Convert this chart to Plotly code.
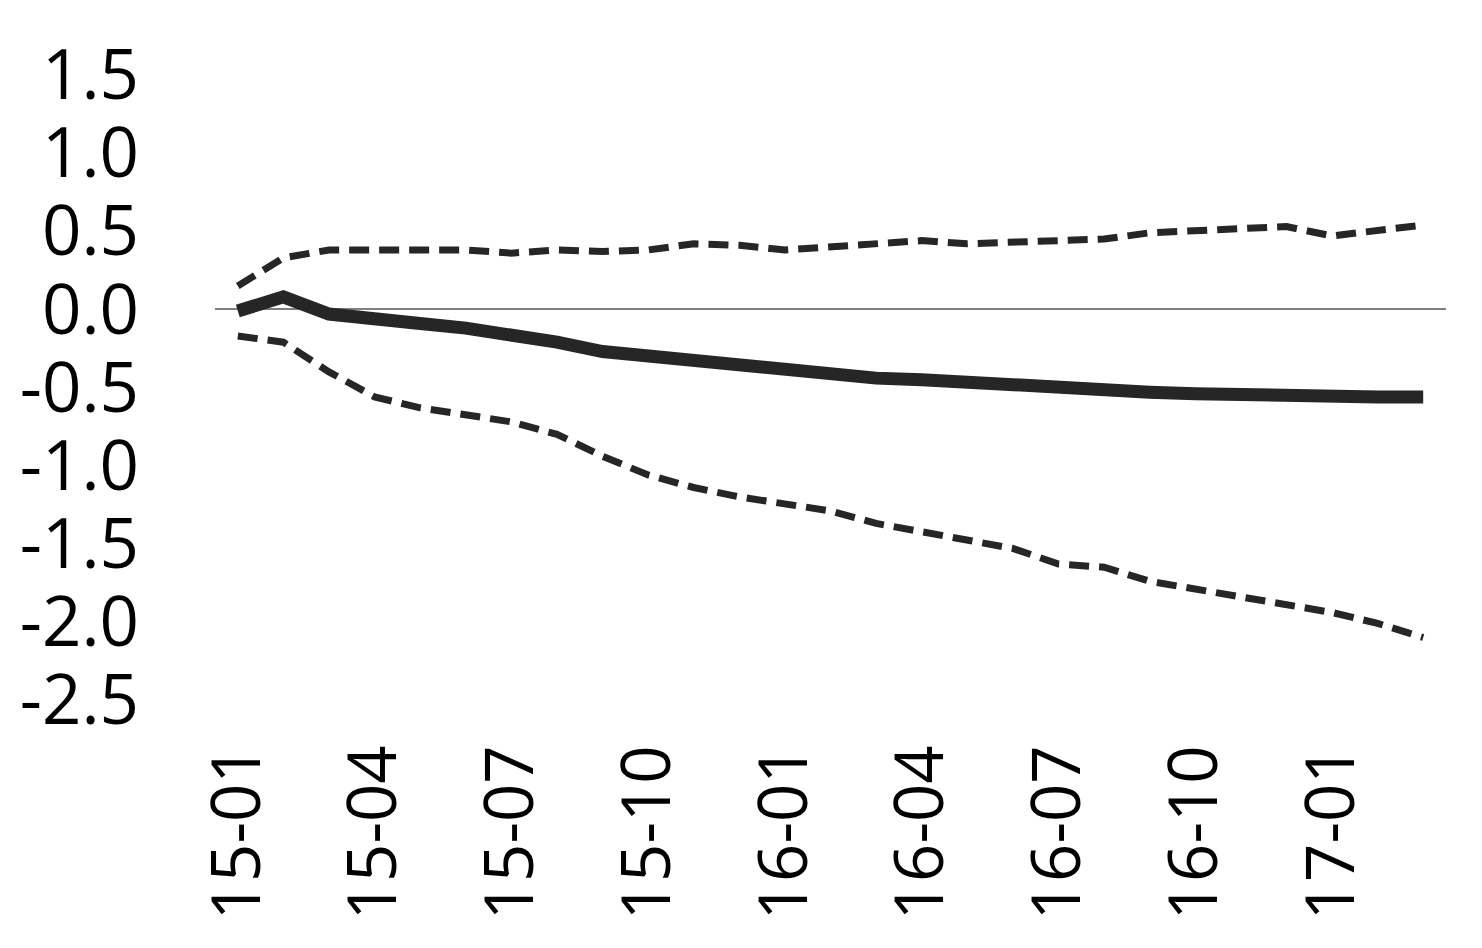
import plotly.graph_objects as go

months = ["15-01", "15-02", "15-03", "15-04", "15-05", "15-06", "15-07", "15-08", "15-09",
          "15-10", "15-11", "15-12", "16-01", "16-02", "16-03", "16-04", "16-05", "16-06",
          "16-07", "16-08", "16-09", "16-10", "16-11", "16-12", "17-01", "17-02", "17-03"]

central = [-0.01, 0.08, -0.03, -0.07, -0.09, -0.12, -0.16, -0.21, -0.27,
           -0.30, -0.33, -0.37, -0.40, -0.42, -0.44, -0.45, -0.47, -0.49,
           -0.51, -0.51, -0.53, -0.54, -0.55, -0.55, -0.56, -0.56, -0.56]

upper = [0.15, 0.33, 0.38, 0.38, 0.39, 0.38, 0.36, 0.38, 0.37,
         0.38, 0.42, 0.41, 0.38, 0.40, 0.43, 0.44, 0.42, 0.43,
         0.45, 0.45, 0.49, 0.50, 0.52, 0.53, 0.47, 0.51, 0.54]

lower = [-0.17, -0.21, -0.40, -0.56, -0.63, -0.68, -0.72, -0.80, -0.94,
         -1.06, -1.14, -1.20, -1.24, -1.29, -1.37, -1.42, -1.47, -1.53,
         -1.63, -1.65, -1.74, -1.79, -1.85, -1.90, -1.94, -2.01, -2.10]

x_ticks = ["15-01", "15-04", "15-07", "15-10", "16-01", "16-04", "16-07", "16-10", "17-01"]
y_ticks = [1.5, 1.0, 0.5, 0.0, -0.5, -1.0, -1.5, -2.0, -2.5]

LINE = "#262626"
FONT = "Open Sans"

fig = go.Figure()
fig.add_trace(go.Scatter(x=months, y=upper, mode="lines",
                         line=dict(color=LINE, width=7, dash="20px,10px"), showlegend=False))
fig.add_trace(go.Scatter(x=months, y=lower, mode="lines",
                         line=dict(color=LINE, width=7, dash="20px,10px"), showlegend=False))
fig.add_trace(go.Scatter(x=months, y=central, mode="lines",
                         line=dict(color=LINE, width=13), showlegend=False))

fig.update_layout(
    width=1482, height=948,
    margin=dict(l=205, r=44, t=67, b=256),
    paper_bgcolor="white", plot_bgcolor="white",
    font=dict(family=FONT, size=69, color="black"),
    xaxis=dict(type="category", categoryorder="array", categoryarray=months,
               range=[-0.5, len(months) - 0.5],
               tickmode="array", tickvals=x_ticks, ticktext=x_ticks,
               tickangle=-90, showgrid=False, zeroline=False, showline=False,
               ticks="", ticklabelstandoff=31, tickfont=dict(size=67, family=FONT)),
    yaxis=dict(range=[-2.5, 1.5], tickmode="array", tickvals=y_ticks,
               ticktext=[f"{v:.1f}" for v in y_ticks],
               showgrid=False, zeroline=True, zerolinecolor="#808080", zerolinewidth=2,
               showline=False, ticks="", ticklabelstandoff=75,
               tickfont=dict(size=69, family=FONT)),
)

fig.write_html("out.html")
